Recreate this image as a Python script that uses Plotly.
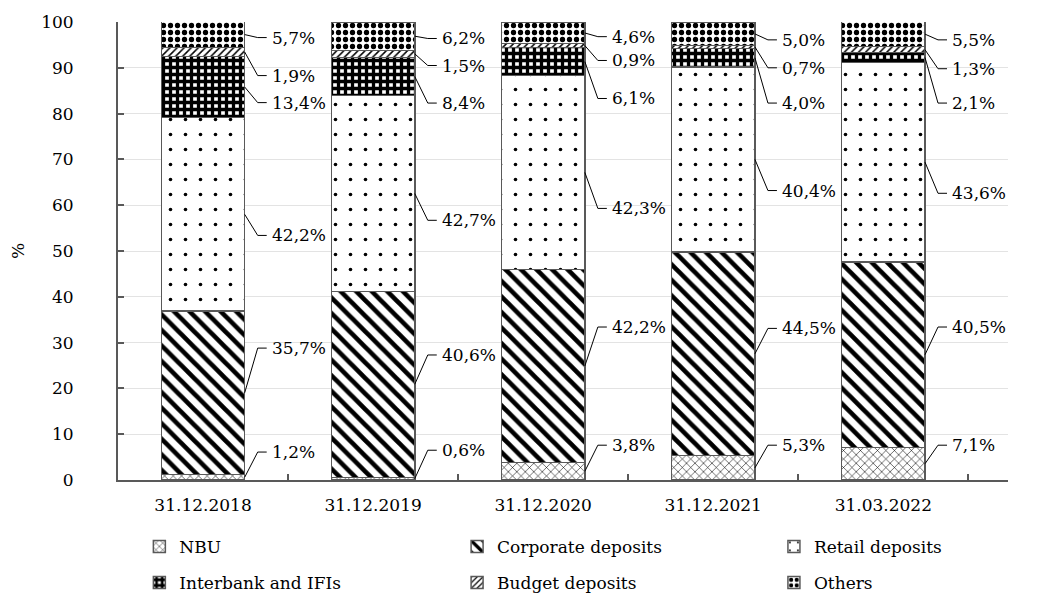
import plotly.graph_objects as go

# Funding structure of the banking sector, % of total liabilities
categories = ["31.12.2018", "31.12.2019", "31.12.2020", "31.12.2021", "31.03.2022"]

nbu = [1.2, 0.6, 3.8, 5.3, 7.1]
corporate = [35.7, 40.6, 42.2, 44.5, 40.5]
retail = [42.2, 42.7, 42.3, 40.4, 43.6]
interbank = [13.4, 8.4, 6.1, 4.0, 2.1]
budget = [1.9, 1.5, 0.9, 0.7, 1.3]
others = [5.7, 6.2, 4.6, 5.0, 5.5]

series_names = ["NBU", "Corporate deposits", "Retail deposits",
                "Interbank and IFIs", "Budget deposits", "Others"]
series_values = [nbu, corporate, retail, interbank, budget, others]

# Heights (in %) at which each callout text sits, per series and date
callout_y = [
    [6.1, 6.5, 7.6, 7.6, 7.6],
    [28.8, 27.3, 33.4, 33.1, 33.4],
    [53.4, 56.7, 59.3, 63.2, 62.6],
    [82.4, 82.3, 83.3, 82.3, 82.3],
    [88.3, 90.5, 91.6, 90.0, 89.8],
    [96.6, 96.4, 96.8, 96.1, 96.1],
]

FONT = "DejaVu Serif"
FS = 17
BAR_WIDTH = 0.49
OUTLINE = "#595959"

patterns = [
    dict(shape="x", size=6, solidity=0.18),
    dict(shape="\\", size=11, solidity=0.42),
    dict(shape=".", size=15, solidity=0.045),
    dict(shape="+", size=7, solidity=0.72),
    dict(shape="/", size=5, solidity=0.3),
    dict(shape=".", size=7, solidity=0.45),
]

# Legend grid: two rows of three entries below the plot (paper fractions)
legend_cols = [0.024, 0.381, 0.737]
legend_rows = [-0.146, -0.225]

fig = go.Figure()
legend_layouts = {}
for k, (name, vals) in enumerate(zip(series_names, series_values)):
    lname = "legend" if k == 0 else f"legend{k + 1}"
    fig.add_trace(go.Bar(
        x=categories,
        y=vals,
        name=name,
        width=BAR_WIDTH,
        legend=lname,
        showlegend=True,
        marker=dict(
            color="white",
            line=dict(color=OUTLINE, width=1.5),
            pattern=dict(fgcolor="black", bgcolor="white", fillmode="replace", **patterns[k]),
        ),
        hoverinfo="skip",
    ))
    legend_layouts[lname] = dict(
        orientation="h",
        x=legend_cols[k % 3], xanchor="left",
        y=legend_rows[k // 3], yanchor="middle",
        font=dict(family=FONT, size=FS),
        bgcolor="rgba(0,0,0,0)",
    )

# Callouts: leader line from the middle of each segment to its value label
shapes = []
annotations = []
for i in range(len(categories)):
    base = 0.0
    for k, vals in enumerate(series_values):
        v = vals[i]
        mid = base + v / 2
        base += v
        ly = callout_y[k][i]
        edge = i + BAR_WIDTH / 2
        shapes.append(dict(
            type="path", xref="x", yref="y",
            xsizemode="pixel", xanchor=edge,
            path=f"M0,{mid} L13,{ly} L22,{ly}",
            line=dict(color="black", width=1),
        ))
        annotations.append(dict(
            x=edge, y=ly, xref="x", yref="y",
            xshift=25, xanchor="left", yanchor="middle",
            text=f"{v:.1f}".replace(".", ",") + "%",
            showarrow=False,
            font=dict(family=FONT, size=FS, color="black"),
        ))

fig.update_layout(
    barmode="stack",
    showlegend=True,
    width=1044, height=599,
    margin=dict(l=118, r=36, t=22, b=119, autoexpand=False),
    paper_bgcolor="white",
    plot_bgcolor="white",
    font=dict(family=FONT, size=FS, color="black"),
    shapes=shapes,
    annotations=annotations,
    xaxis=dict(
        type="category",
        tickson="boundaries",
        ticks="inside", ticklen=6, tickcolor=OUTLINE, tickwidth=1.5,
        showline=True, linecolor=OUTLINE, linewidth=2,
        showgrid=False,
        ticklabelstandoff=9,
        tickfont=dict(family=FONT, size=FS),
    ),
    yaxis=dict(
        range=[0, 100],
        tickvals=list(range(0, 101, 10)),
        ticks="inside", ticklen=6, tickcolor=OUTLINE, tickwidth=1.5,
        showline=True, linecolor=OUTLINE, linewidth=2,
        showgrid=True, gridcolor="#e3e3e3", gridwidth=1,
        zeroline=False,
        ticklabelstandoff=39,
        tickfont=dict(family=FONT, size=FS),
        title=dict(text="%", font=dict(family=FONT, size=FS), standoff=12),
    ),
    **legend_layouts,
)

fig.write_html("out.html")
